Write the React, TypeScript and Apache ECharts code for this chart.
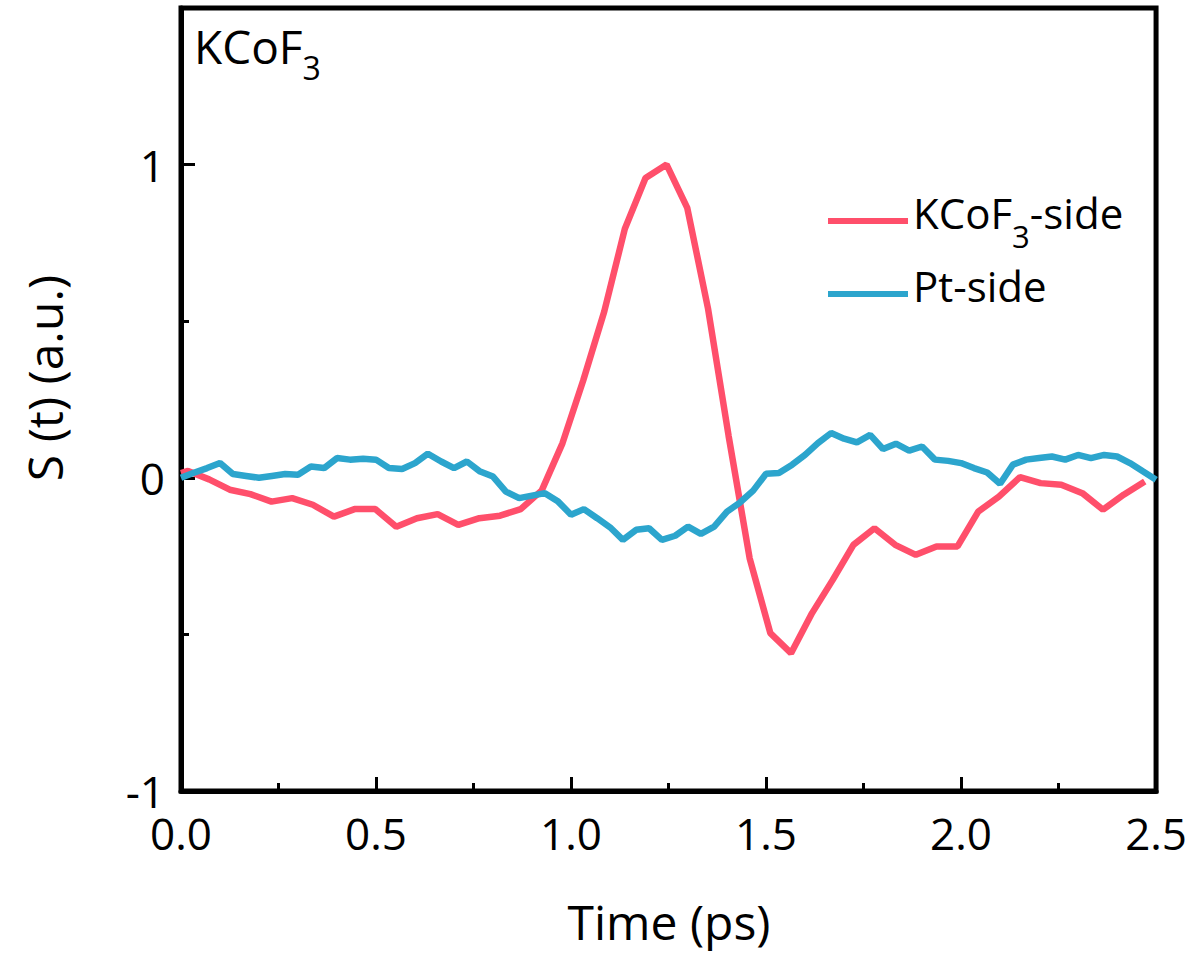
import React, { useEffect, useRef } from 'react';
import * as echarts from 'echarts';

// ---- data ----
const kcofTime = [
  0.0, 0.018, 0.072, 0.125, 0.178, 0.232, 0.285, 0.338, 0.392, 0.445,
  0.498, 0.552, 0.605, 0.658, 0.711, 0.765, 0.818, 0.871, 0.925, 0.978,
  1.031, 1.085, 1.138, 1.191, 1.245, 1.298, 1.351, 1.404, 1.458, 1.511,
  1.564, 1.618, 1.671, 1.724, 1.778, 1.831, 1.884, 1.937, 1.991, 2.044,
  2.097, 2.151, 2.204, 2.257, 2.311, 2.364, 2.417, 2.471,
];
const kcofSignal = [
  0.015, 0.022, -0.005, -0.038, -0.052, -0.076, -0.065, -0.086, -0.124, -0.1,
  -0.1, -0.156, -0.129, -0.116, -0.15, -0.129, -0.121, -0.1, -0.04, 0.11,
  0.31, 0.53, 0.795, 0.957, 1.0, 0.862, 0.542, 0.134, -0.257, -0.496,
  -0.56, -0.432, -0.326, -0.214, -0.161, -0.214, -0.246, -0.219, -0.219, -0.108,
  -0.06, 0.002, -0.017, -0.022, -0.049, -0.102, -0.054, -0.012,
];
const ptTime = [
  0.0, 0.033, 0.067, 0.1, 0.133, 0.167, 0.2, 0.233, 0.267, 0.3,
  0.333, 0.367, 0.4, 0.433, 0.467, 0.5, 0.533, 0.567, 0.6, 0.633,
  0.667, 0.7, 0.733, 0.767, 0.8, 0.833, 0.867, 0.9, 0.933, 0.967,
  1.0, 1.033, 1.067, 1.1, 1.133, 1.167, 1.2, 1.233, 1.267, 1.3,
  1.333, 1.367, 1.4, 1.433, 1.467, 1.5, 1.533, 1.567, 1.6, 1.633,
  1.667, 1.7, 1.733, 1.767, 1.8, 1.833, 1.867, 1.9, 1.933, 1.967,
  2.0, 2.033, 2.067, 2.1, 2.133, 2.167, 2.2, 2.233, 2.267, 2.3,
  2.333, 2.367, 2.4, 2.433, 2.467, 2.5,
];
const ptSignal = [
  0.0, 0.016, 0.031, 0.047, 0.012, 0.006, 0.0, 0.006, 0.012, 0.01,
  0.036, 0.031, 0.063, 0.058, 0.061, 0.058, 0.031, 0.028, 0.047, 0.077,
  0.052, 0.031, 0.052, 0.02, 0.004, -0.044, -0.065, -0.057, -0.049, -0.076,
  -0.118, -0.1, -0.129, -0.158, -0.198, -0.166, -0.161, -0.198, -0.185, -0.156,
  -0.179, -0.156, -0.108, -0.079, -0.041, 0.013, 0.015, 0.042, 0.073, 0.111,
  0.143, 0.125, 0.113, 0.137, 0.092, 0.109, 0.087, 0.1, 0.058, 0.054,
  0.047, 0.031, 0.017, -0.019, 0.042, 0.058, 0.063, 0.068, 0.058, 0.073,
  0.063, 0.073, 0.068, 0.047, 0.02, -0.006,
];
const seriesNames = ['KCoF3-side', 'Pt-side'];
const xLabel = 'Time (ps)';
const yLabel = 'S (t) (a.u.)';
const panelLabel = 'KCoF';
const panelSub = '3';

const RED = '#FF4F6B';
const BLUE = '#2CA5CD';
const FONT = '"Open Sans", "Noto Sans", sans-serif';

export default function App() {
  const ref = useRef<HTMLDivElement>(null);
  useEffect(() => {
    if (!ref.current) return;
    const chart = echarts.init(ref.current, undefined, { renderer: 'svg' });
    const mkRich = (size: number, subSize: number) => ({
      m: { fontSize: size, fontFamily: FONT, fontWeight: 'normal', color: '#000', lineHeight: 60, verticalAlign: 'top' },
      s: { fontSize: subSize, fontFamily: FONT, fontWeight: 'normal', color: '#000', lineHeight: 22, verticalAlign: 'bottom' },
    });
    const axisLineStyle = { color: '#000', width: 5 };
    const option: any = {
      animation: false,
      backgroundColor: '#fff',
      grid: {
        left: 181, right: 33, top: 8, bottom: 162,
        show: true, borderColor: '#000', borderWidth: 5, backgroundColor: 'transparent',
      },
      title: {
        text: `{m|${panelLabel}}{s|${panelSub}}`,
        left: 189, top: 18,
        textStyle: { fontWeight: 'normal', rich: mkRich(46, 32) },
      },
      legend: {
        orient: 'vertical', left: 823, top: 186,
        itemWidth: 80, itemHeight: 6, itemGap: 13,
        icon: 'rect',
        data: seriesNames,
        formatter: (name: string) =>
          name === 'KCoF3-side' ? `{m|KCoF}{s|3}{m|-side}` : `{m|${name}}`,
        textStyle: { rich: mkRich(42, 31) },
      },
      xAxis: {
        type: 'value', min: 0, max: 2.5, interval: 0.5,
        axisLine: { show: true, onZero: false, lineStyle: axisLineStyle },
        axisTick: { show: true, inside: true, length: 14, lineStyle: { color: '#000', width: 3 } },
        minorTick: { show: true, splitNumber: 2, length: 8, lineStyle: { color: '#000', width: 3 } },
        axisLabel: {
          color: '#000', fontSize: 44, fontFamily: FONT, margin: 26, lineHeight: 32,
          formatter: (v: number) => v.toFixed(1),
        },
        splitLine: { show: false },
        minorSplitLine: { show: false },
      },
      yAxis: [
        {
          type: 'value', min: -1, max: 1.5, interval: 0.5,
          axisLine: { show: true, onZero: false, lineStyle: axisLineStyle },
          axisTick: { show: true, inside: true, length: 8, lineStyle: { color: '#000', width: 3 } },
          axisLabel: {
            color: '#000', fontSize: 44, fontFamily: FONT, margin: 16, lineHeight: 30,
            formatter: (v: number) => (Math.abs(v - Math.round(v)) < 1e-6 && v < 1.4 ? String(Math.round(v)) : ''),
          },
          splitLine: { show: false },
        },
        {
          type: 'value', min: -1, max: 1.5, interval: 1, position: 'left',
          axisLine: { show: false, onZero: false },
          axisTick: { show: true, inside: true, length: 14, lineStyle: { color: '#000', width: 3 } },
          axisLabel: { show: false },
          splitLine: { show: false },
        },
      ],
      graphic: [
        {
          type: 'text', x: 669, y: 921,
          style: { text: xLabel, fontSize: 48, fontFamily: FONT, fill: '#000', textAlign: 'center', textVerticalAlign: 'middle' },
        },
        {
          type: 'text', x: 44, y: 378, rotation: Math.PI / 2,
          style: { text: yLabel, fontSize: 48, fontFamily: FONT, fill: '#000', textAlign: 'center', textVerticalAlign: 'middle' },
        },
      ],
      series: [
        {
          name: seriesNames[0], type: 'line', symbol: 'none',
          data: kcofTime.map((t, i) => [t, kcofSignal[i]]),
          lineStyle: { color: RED, width: 6.5 }, itemStyle: { color: RED },
        },
        {
          name: seriesNames[1], type: 'line', symbol: 'none',
          data: ptTime.map((t, i) => [t, ptSignal[i]]),
          lineStyle: { color: BLUE, width: 6.5 }, itemStyle: { color: BLUE },
        },
      ],
    };
    chart.setOption(option);
    return () => chart.dispose();
  }, []);
  return (
    <div
      ref={ref}
      style={{ position: 'absolute', left: 0, top: 0, width: 1190, height: 953, background: '#fff' }}
    />
  );
}
